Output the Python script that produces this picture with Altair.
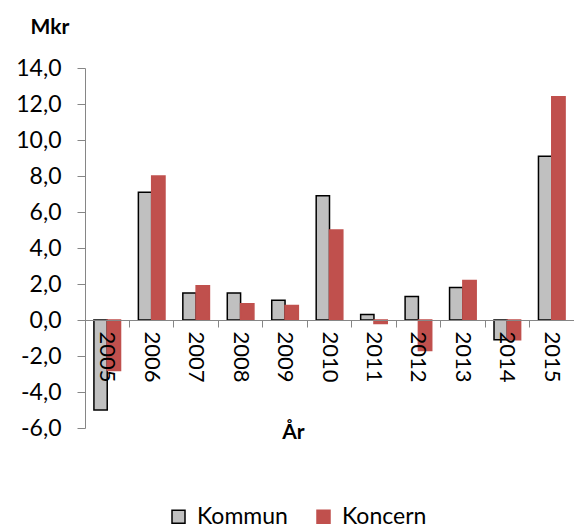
import altair as alt
import pandas as pd

years = ["2005", "2006", "2007", "2008", "2009", "2010", "2011", "2012", "2013", "2014", "2015"]
kommun = [-5.0, 7.1, 1.5, 1.5, 1.1, 6.9, 0.3, 1.3, 1.8, -1.1, 9.1]
koncern = [-2.8, 8.0, 1.9, 0.9, 0.8, 5.0, -0.2, -1.7, 2.2, -1.1, 12.4]
series = ["Kommun", "Koncern"]
y_ticks = [-6, -4, -2, 0, 2, 4, 6, 8, 10, 12, 14]

rows = []
for i, yr in enumerate(years):
    rows.append({"year": yr, "series": series[0], "value": kommun[i]})
    rows.append({"year": yr, "series": series[1], "value": koncern[i]})
df = pd.DataFrame(rows)

FONT = "Lato"
GRAY_AX = "#868686"

legend = alt.Legend(title=None, orient="none", legendX=82, legendY=437,
                    direction="horizontal", symbolType="square",
                    symbolSize=169, symbolStrokeWidth=1.5,
                    labelFont=FONT, labelFontSize=23, labelColor="black",
                    labelOffset=7, columnPadding=24, padding=0)

chart = alt.Chart(df).mark_bar(strokeWidth=1.5).encode(
    x=alt.X(
        "year:N",
        sort=years,
        scale=alt.Scale(paddingInner=0, paddingOuter=0),
        axis=alt.Axis(
            title="År",
            titleFont=FONT, titleFontSize=21, titleFontWeight="bold", titleColor="black",
            titleX=208, titleY=112, titleBaseline="middle", titleAlign="center",
            labelAngle=90, labelAlign="left", labelBaseline="middle",
            labelFont=FONT, labelFontSize=22, labelColor="black",
            labelPadding=4, labelOffset=0,
            bandPosition=0, tickSize=7, tickColor=GRAY_AX,
            domainColor=GRAY_AX, offset=-108, zindex=1,
        ),
    ),
    xOffset=alt.XOffset("series:N", sort=series,
                        scale=alt.Scale(paddingInner=0, paddingOuter=0.67)),
    y=alt.Y(
        "value:Q",
        scale=alt.Scale(domain=[-6, 14], nice=False, zero=False),
        axis=alt.Axis(
            values=y_ticks,
            title="Mkr", titleAngle=0, titleX=-55, titleY=-35,
            titleAlign="left", titleBaseline="alphabetic",
            titleFont=FONT, titleFontSize=21, titleFontWeight="bold", titleColor="black",
            labelExpr="replace(replace(format(datum.value, '.1f'), '.', ','), '\u2212', '-')",
            labelFont=FONT, labelFontSize=23, labelColor="black", labelPadding=16,
            tickSize=8, tickColor=GRAY_AX, domainColor=GRAY_AX, grid=False,
        ),
    ),
    fill=alt.Fill("series:N", sort=series,
                  scale=alt.Scale(domain=series, range=["#C0C0C0", "#C0504D"]),
                  legend=legend),
    stroke=alt.Stroke("series:N", sort=series,
                      scale=alt.Scale(domain=series, range=["#000000", "#C0504D"]),
                      legend=legend),
).properties(
    width=489, height=360,
    autosize=alt.AutoSizeParams(type="none"),
    padding={"left": 77, "top": 60, "right": 0, "bottom": 100},
).configure_view(stroke=None)

chart.save("out.html", embed_options={"renderer": "svg", "actions": False})
